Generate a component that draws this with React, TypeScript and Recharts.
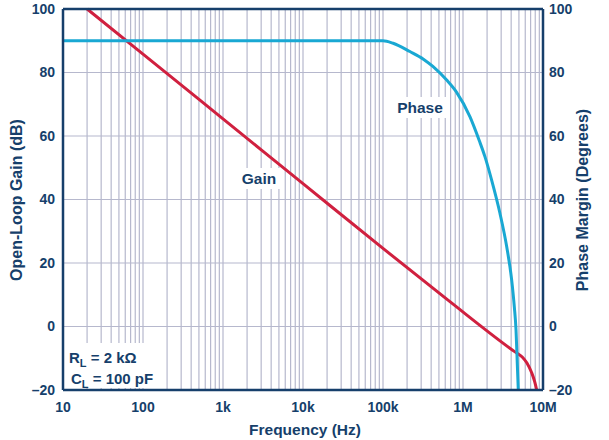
import React from "react";
import {
  ComposedChart,
  Line,
  XAxis,
  YAxis,
  CartesianGrid,
  ReferenceLine,
} from "recharts";

// frequency (Hz) / open-loop gain (dB)
const gainFreq = [20, 100, 1e3, 1e4, 1e5, 6.5e5, 4.47e6, 5.5e6, 6.3e6, 7.2e6, 7.9e6, 8.34e6];
const gainDb = [100, 85.8, 65.4, 45, 24.6, 8.3, -8, -9.6, -11.5, -14.5, -17.5, -20];

// frequency (Hz) / phase margin (degrees)
const phaseFreq = [
  10, 1e5, 1.34e5, 2.17e5, 3.2e5, 4.2e5, 6.25e5, 8.25e5, 1.22e6, 1.6e6, 1.88e6,
  2.28e6, 2.9e6, 3.52e6, 4.06e6, 4.38e6, 4.6e6, 4.77e6, 4.91e6,
];
const phaseDeg = [
  90, 90, 89.2, 86.6, 84.2, 81.9, 77.6, 73.9, 66.1, 58.5, 53.5, 46.1, 35.6, 25.1,
  14.6, 6.2, -1.1, -11.6, -20,
];

const decades = [10, 100, 1e3, 1e4, 1e5, 1e6, 1e7];
const decadeLabels = ["10", "100", "1k", "10k", "100k", "1M", "10M"];
const yTicks = [-20, 0, 20, 40, 60, 80, 100];

// minor grid positions: 1..9 x each decade
const freqTicks: number[] = [];
decades.slice(0, -1).forEach((d) => {
  for (let m = 1; m < 10; m++) freqTicks.push(d * m);
});
freqTicks.push(1e7);

const gainData = gainFreq.map((f, i) => ({ f, gain: gainDb[i] }));
const phaseData = phaseFreq.map((f, i) => ({ f, phase: phaseDeg[i] }));

const NAVY = "#163f6b";
const GRID = "#b6b8cd";
const RED = "#d0203f";
const CYAN = "#19a8d3";
const FONT = "'Liberation Sans', Arial, sans-serif";

const fmtFreq = (v: number) => {
  const i = decades.findIndex((d) => Math.abs(d - v) < d * 1e-6);
  return i >= 0 ? decadeLabels[i] : "";
};
const fmtY = (v: number) => (v < 0 ? "\u2013" + Math.abs(v) : String(v));

const tickStyle = { fill: NAVY, fontSize: 14, fontWeight: 700, fontFamily: FONT };

export default function App() {
  return (
    <div style={{ position: "absolute", left: 0, top: 0, width: 609, height: 440, background: "#fff" }}>
      <ComposedChart
        width={609}
        height={440}
        margin={{ top: 9, right: 0, bottom: 0, left: 0 }}
      >
        <CartesianGrid stroke={GRID} strokeWidth={1.2} yAxisId="gain" />
        <XAxis
          dataKey="f"
          type="number"
          scale="log"
          domain={[10, 1e7]}
          ticks={freqTicks}
          interval={0}
          allowDataOverflow
          tickFormatter={fmtFreq}
          tickLine={false}
          tickSize={0}
          tickMargin={12}
          height={50}
          axisLine={{ stroke: NAVY, strokeWidth: 2.5 }}
          tick={tickStyle}
        />
        <YAxis
          yAxisId="gain"
          orientation="left"
          domain={[-20, 100]}
          ticks={yTicks}
          tickFormatter={fmtY}
          width={63}
          tickLine={false}
          tickSize={0}
          tickMargin={8}
          axisLine={{ stroke: NAVY, strokeWidth: 2.5 }}
          tick={tickStyle}
        />
        <YAxis
          yAxisId="phase"
          orientation="right"
          domain={[-20, 100]}
          ticks={yTicks}
          tickFormatter={fmtY}
          width={66}
          tickLine={false}
          tickSize={0}
          tickMargin={6}
          axisLine={{ stroke: NAVY, strokeWidth: 2.5 }}
          tick={{ ...tickStyle, textAnchor: "start" }}
        />
        <Line
          yAxisId="gain"
          data={gainData}
          dataKey="gain"
          type="monotone"
          stroke={RED}
          strokeWidth={3}
          dot={false}
          isAnimationActive={false}
        />
        <Line
          yAxisId="phase"
          data={phaseData}
          dataKey="phase"
          type="monotone"
          stroke={CYAN}
          strokeWidth={3}
          dot={false}
          isAnimationActive={false}
        />
        <ReferenceLine yAxisId="gain" y={100} stroke={NAVY} strokeWidth={2.5} />
      </ComposedChart>

      <svg
        width={609}
        height={440}
        style={{ position: "absolute", left: 0, top: 0, pointerEvents: "none" }}
        fontFamily={FONT}
        fontWeight={700}
        fill={NAVY}
      >
        <text x={22} y={200} fontSize={16} textAnchor="middle" transform="rotate(-90 22 200)">
          Open-Loop Gain (dB)
        </text>
        <text x={588} y={200} fontSize={16} textAnchor="middle" transform="rotate(-90 588 200)">
          Phase Margin (Degrees)
        </text>
        <text x={305} y={435} fontSize={15.5} textAnchor="middle">
          Frequency (Hz)
        </text>

        <rect x={238} y={168} width={42} height={21} fill="#fff" />
        <text x={259} y={184} fontSize={15.5} textAnchor="middle">Gain</text>
        <rect x={395} y={97} width={51} height={21} fill="#fff" />
        <text x={420} y={113} fontSize={15.5} textAnchor="middle">Phase</text>

        <rect x={65} y={343} width={97} height={45} fill="#fff" />
        <text x={69} y={363} fontSize={15}>
          R<tspan fontSize={11} dy={4}>L</tspan>
          <tspan dy={-4}> = 2 kΩ</tspan>
        </text>
        <text x={71} y={384} fontSize={15}>
          C<tspan fontSize={11} dy={4}>L</tspan>
          <tspan dy={-4}> = 100 pF</tspan>
        </text>
      </svg>
    </div>
  );
}
